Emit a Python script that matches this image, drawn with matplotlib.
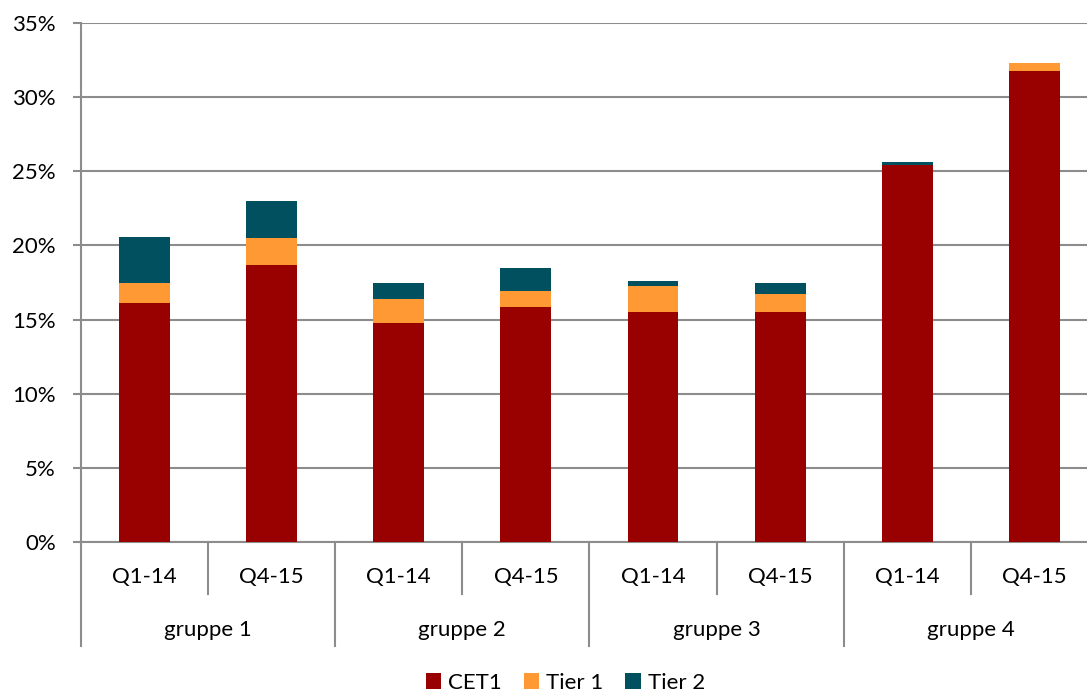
import matplotlib.pyplot as plt
import numpy as np

groups = ['gruppe 1', 'gruppe 2', 'gruppe 3', 'gruppe 4']
periods = ['Q1-14', 'Q4-15']

# capital ratio components in percent, two periods per group
cet1 = [16.1, 18.65, 14.75, 15.83, 15.5, 15.52, 25.45, 31.78]
tier1 = [1.4, 1.85, 1.67, 1.07, 1.75, 1.23, 0.0, 0.49]
tier2 = [3.1, 2.5, 1.03, 1.55, 0.35, 0.75, 0.2, 0.0]

colors = {'CET1': '#990000', 'Tier 1': '#FF9933', 'Tier 2': '#00505F'}
grid_col = '#8C8C8C'

plt.rcParams['font.family'] = ['Lato', 'DejaVu Sans']

fig = plt.figure(figsize=(10.87, 6.93), dpi=100)
# plot area runs a little past the right edge of the figure
ax = fig.add_axes([0.0745, 0.2179, 0.9356, 0.7489])

x = np.arange(len(cet1))
w = 0.4
cet1 = np.array(cet1)
tier1 = np.array(tier1)
tier2 = np.array(tier2)
ax.bar(x, cet1, w, color=colors['CET1'], label='CET1', zorder=3)
ax.bar(x, tier1, w, bottom=cet1, color=colors['Tier 1'], label='Tier 1', zorder=3)
ax.bar(x, tier2, w, bottom=cet1 + tier1, color=colors['Tier 2'], label='Tier 2', zorder=3)

ax.set_xlim(-0.5, len(cet1) - 0.5)
ax.set_ylim(0, 35)
ax.set_yticks(range(0, 36, 5))
ax.set_yticklabels([f'{v}%' for v in range(0, 36, 5)], fontsize=16)
ax.tick_params(axis='y', length=6, width=1.5, color=grid_col, pad=12)
ax.set_xticks([])
ax.yaxis.grid(True, color=grid_col, linewidth=1.5, zorder=0)

for side in ['top', 'right']:
    ax.spines[side].set_visible(False)
for side in ['left', 'bottom']:
    ax.spines[side].set_color(grid_col)
    ax.spines[side].set_linewidth(1.5)

# two-level category axis below the plot
tr = ax.get_xaxis_transform()
for i in range(len(cet1) + 1):
    edge = i - 0.5
    low = -0.2 if i % 2 == 0 else -0.1
    ax.plot([edge, edge], [0, low], transform=tr, color=grid_col,
            linewidth=1.5, clip_on=False)
for i, xi in enumerate(x):
    ax.text(xi, -0.0674, periods[i % 2], transform=tr, ha='center',
            va='center', fontsize=16)
for g, name in enumerate(groups):
    ax.text(2 * g + 0.5, -0.17, name, transform=tr, ha='center',
            va='center', fontsize=16)

fig.legend(loc='center', bbox_to_anchor=(0.52, 0.015), ncol=3, frameon=False,
           fontsize=16, handlelength=0.7, handleheight=0.7,
           handletextpad=0.3, columnspacing=1.0)

fig.savefig('out.png', dpi=100)
